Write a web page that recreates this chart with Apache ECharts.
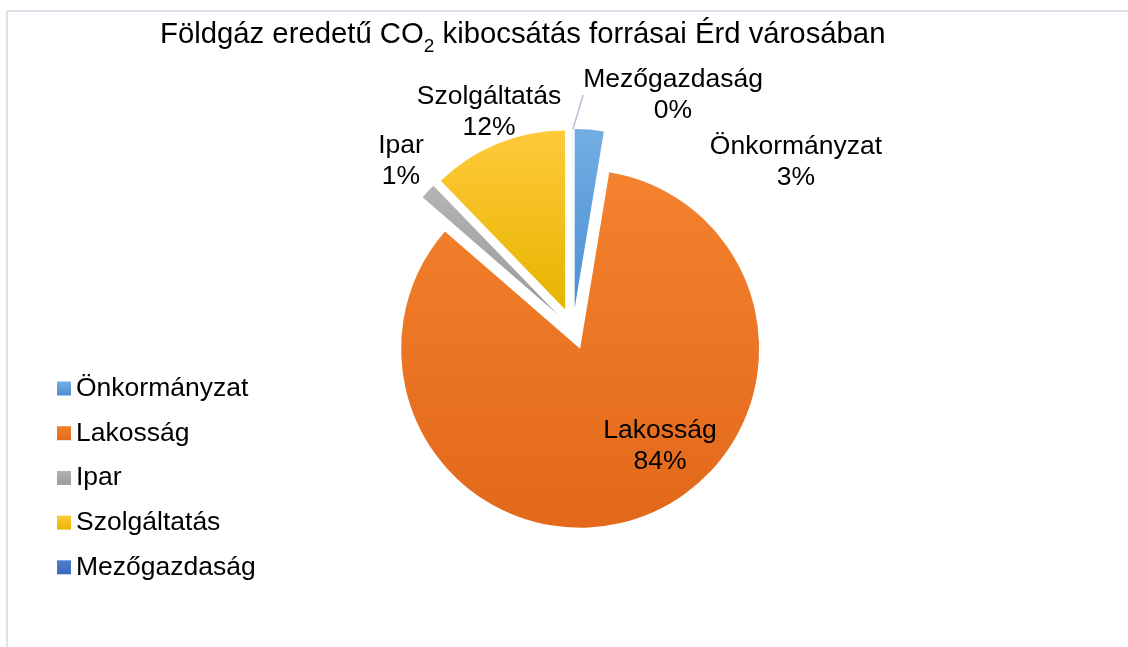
<!DOCTYPE html>
<html>
<head>
<meta charset="utf-8">
<script src="https://cdn.jsdelivr.net/npm/echarts@6/dist/echarts.min.js"></script>
<style>
html,body{margin:0;padding:0;background:#fff;}
#chart{width:1128px;height:647px;}
</style>
</head>
<body>
<div id="chart"></div>
<script>
const categories = ['Önkormányzat', 'Lakosság', 'Ipar', 'Szolgáltatás', 'Mezőgazdaság'];
const values = [2.6, 83.7, 1.4, 12.2, 0.01];
const colorsTop = ['#72aee3', '#f4822e', '#b4b4b4', '#ffca3a', '#4f7fcc'];
const colorsBottom = ['#4d8fd3', '#e2681a', '#9a9a9a', '#e6b400', '#3a66b8'];

const FONT = '"Liberation Sans", Arial, sans-serif';
const total = values.reduce((a, b) => a + b, 0);

// label placements (centers) for each slice
const labelPos = [
  [796, 162],
  [660, 446],
  [401, 161],
  [489, 112],
  [673, 95]
];

const chart = echarts.init(document.getElementById('chart'), null, {renderer: 'canvas'});

const sliceData = categories.map((name, i) => ({
  name: name,
  value: values[i],
  selected: true,
  itemStyle: {
    color: new echarts.graphic.LinearGradient(0, 0, 0, 1, [
      {offset: 0, color: colorsTop[i]},
      {offset: 1, color: colorsBottom[i]}
    ])
  }
}));

const labelData = categories.map((name, i) => ({
  name: name,
  value: values[i],
  labelLine: {show: i === 4, lineStyle: {color: '#b4c3d6', width: 1.5}}
}));

chart.setOption({
  animation: false,
  title: {
    text: '{a|Földgáz eredetű CO}{s|2}{a| kibocsátás forrásai Érd városában}',
    left: 160,
    top: 20,
    padding: 0,
    textStyle: {
      fontWeight: 'normal',
      rich: {
        a: {fontFamily: FONT, fontSize: 29.3, fontWeight: 'normal', color: '#000', verticalAlign: 'bottom'},
        s: {fontFamily: FONT, fontSize: 19, fontWeight: 'normal', color: '#000', verticalAlign: 'bottom', padding: [0, 0, -7, 0]}
      }
    }
  },
  legend: {
    orient: 'vertical',
    left: 57,
    top: 375,
    padding: 0,
    itemWidth: 14,
    itemHeight: 14,
    itemGap: 17.7,
    icon: 'rect',
    selectedMode: false,
    textStyle: {fontFamily: FONT, fontSize: 26.5, color: '#000'},
    data: categories
  },
  graphic: [
    {type: 'line', shape: {x1: 7, y1: 11, x2: 1128, y2: 11}, style: {stroke: '#dde1ea', lineWidth: 2}},
    {type: 'line', shape: {x1: 7, y1: 11, x2: 7, y2: 647}, style: {stroke: '#dde1ea', lineWidth: 2}}
  ],
  series: [{
    name: 'slices',
    type: 'pie',
    center: [573, 329],
    radius: [0, 179],
    startAngle: 90,
    clockwise: true,
    selectedMode: 'multiple',
    selectedOffset: 21,
    emphasis: {disabled: true},
    label: {show: false},
    labelLine: {show: false},
    data: sliceData
  }, {
    name: 'labels',
    type: 'pie',
    center: [573, 329],
    radius: [0, 200],
    startAngle: 90,
    clockwise: true,
    selectedMode: false,
    silent: true,
    avoidLabelOverlap: false,
    emphasis: {disabled: true},
    itemStyle: {color: 'rgba(0,0,0,0)'},
    label: {
      show: true,
      position: 'outside',
      fontFamily: FONT,
      fontSize: 26.5,
      lineHeight: 31,
      color: '#000',
      align: 'center',
      formatter: p => p.name + '\n' + Math.round(p.value / total * 100) + '%'
    },
    labelLine: {show: false, length: 10, length2: 0},
    labelLayout: function (params) {
      const p = labelPos[params.dataIndex];
      return {x: p[0], y: p[1], align: 'center', verticalAlign: 'middle'};
    },
    data: labelData
  }]
});
</script>
</body>
</html>
